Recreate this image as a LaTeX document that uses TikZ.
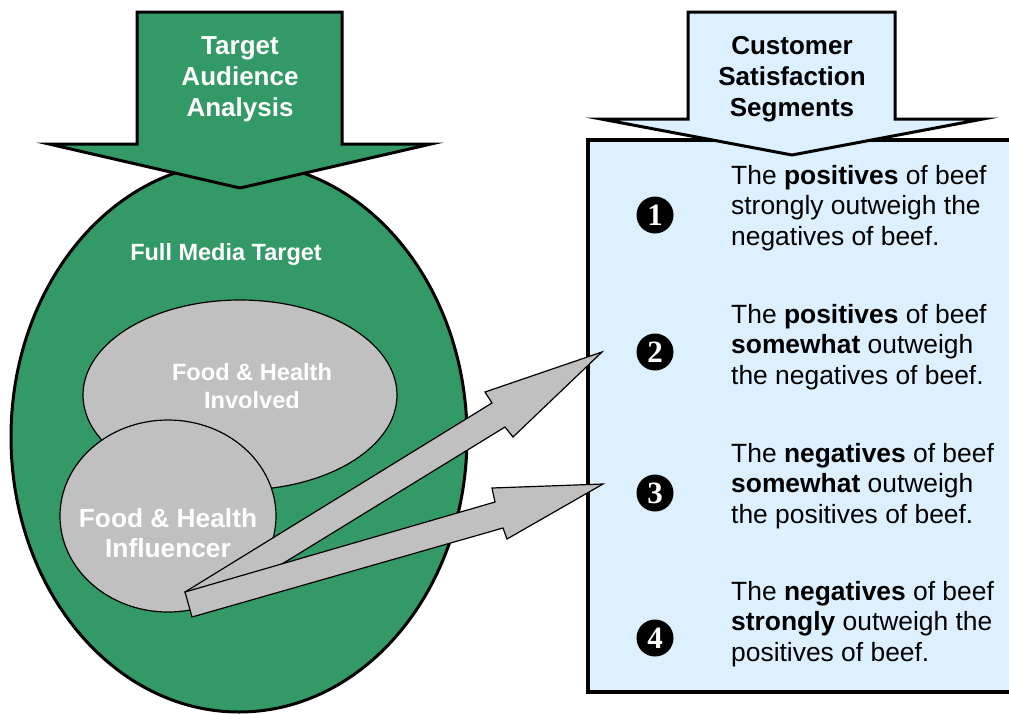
\documentclass[tikz,border=0pt]{standalone}
\usepackage{fontspec}
\setmainfont{Liberation Sans}
\newfontfamily\numfont{Liberation Serif}
\usetikzlibrary{shapes.geometric}

\definecolor{mediagreen}{RGB}{51,153,102}
\definecolor{panelblue}{RGB}{221,240,255}
\definecolor{segray}{RGB}{192,192,192}

% multi-line text whose baseline is the first line's baseline
\newcommand\leftlines[1]{\begin{tabular}[t]{@{}l@{}}#1\end{tabular}}
\newcommand\midlines[1]{\begin{tabular}[t]{@{}c@{}}#1\end{tabular}}

\begin{document}
\begin{tikzpicture}[x=1pt,y=-1pt,
  blockarrow/.style={draw=black, line width=3pt, line join=miter, miter limit=30},
  graybody/.style={draw=black, fill=segray, line width=1.2pt},
  grayarrow/.style={draw=black, fill=segray, line width=1.2pt, line join=miter, miter limit=30},
  title/.style={inner sep=0pt, anchor=base, font=\bfseries\fontsize{26}{31}\selectfont},
  inlabel/.style={inner sep=0pt, anchor=base, text=white, font=\bfseries},
  segtext/.style={inner sep=0pt, anchor=base west, font=\fontsize{26.4}{30.6}\selectfont},
  segnum/.style={circle, fill=black, minimum size=37pt, inner sep=0pt,
    text=white, font=\numfont\bfseries\fontsize{31}{31}\selectfont}
]
\clip (0,0) rectangle (1009,713);

% ---------- left: target audience ----------
\node[ellipse, draw=black, line width=3pt, fill=mediagreen,
      minimum width=456pt, minimum height=550pt] (full) at (239,437) {};
\node[ellipse, graybody, minimum width=314pt, minimum height=190pt] (involved) at (240,395) {};
\node[ellipse, graybody, minimum width=216pt, minimum height=192pt] (influencer) at (168,516) {};

\node[inlabel, font=\bfseries\fontsize{23.5}{28}\selectfont] (fulllbl) at (226,260) {Full Media Target};
\node[inlabel, font=\bfseries\fontsize{23.6}{28}\selectfont] (involvedlbl) at (252,380)
  {\midlines{Food \& Health\\Involved}};
\node[inlabel, font=\bfseries\fontsize{26.3}{30}\selectfont] (influencerlbl) at (168,527)
  {\midlines{Food \& Health\\Influencer}};

% big down arrow above the audience ellipse
\path[blockarrow, fill=mediagreen]
  (137,12) -- (342,12) -- (342,144) -- (431,144) -- (240,188)
  -- (49,144) -- (137,144) -- cycle;
\node[title, text=white] (audtitle) at (240,54) {\midlines{Target\\Audience\\Analysis}};

% ---------- right: satisfaction segments ----------
\node[draw=black, line width=4pt, fill=panelblue, anchor=north west,
      minimum width=460pt, minimum height=552pt, inner sep=0pt, outer sep=0pt] (panel) at (588,140) {};

\path[blockarrow, fill=panelblue]
  (688,12) -- (895,12) -- (895,119) -- (983,119) -- (792,155)
  -- (601,119) -- (688,119) -- cycle;
\node[title, text=black] (segtitle) at (792,54) {\midlines{Customer\\Satisfaction\\Segments}};

\node[segnum] (n1) at (655,215) {1};
\node[segnum] (n2) at (655,352) {2};
\node[segnum] (n3) at (655,493) {3};
\node[segnum] (n4) at (655,638) {4};

\node[segtext] (s1) at (731,184)
  {\leftlines{The \textbf{positives} of beef\\strongly outweigh the\\negatives of beef.}};
\node[segtext] (s2) at (731,323)
  {\leftlines{The \textbf{positives} of beef\\\textbf{somewhat} outweigh\\the negatives of beef.}};
\node[segtext] (s3) at (731,462)
  {\leftlines{The \textbf{negatives} of beef\\\textbf{somewhat} outweigh\\the positives of beef.}};
\node[segtext] (s4) at (731,600)
  {\leftlines{The \textbf{negatives} of beef\\\textbf{strongly} outweigh the\\positives of beef.}};

% ---------- block arrows from the influencers to segments 2 and 3 ----------
\coordinate (tail) at (185,592);
\path[grayarrow]
  (tail) -- (492,403) -- (485,392) -- (602,352) -- (513,437) -- (505,427)
  -- (199,615) -- cycle;
\path[grayarrow]
  (tail) -- (495,502) -- (492,488) -- (603,484) -- (507,539) -- (503,528)
  -- (192,617) -- cycle;
\end{tikzpicture}
\end{document}
